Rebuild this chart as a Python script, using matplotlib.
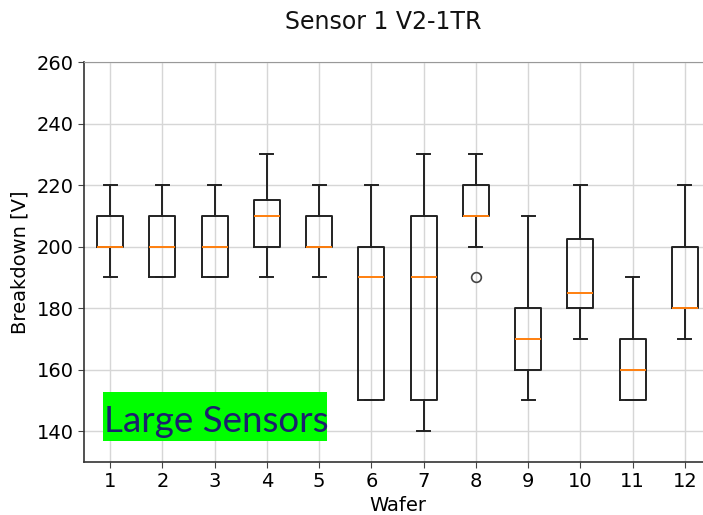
import matplotlib
matplotlib.use("Agg")
import matplotlib.pyplot as plt
from matplotlib.patches import Rectangle

plt.rcParams["font.family"] = ["DejaVu Sans"]

wafers = [1, 2, 3, 4, 5, 6, 7, 8, 9, 10, 11, 12]
whisker_low = [190, 190, 190, 190, 190, 150, 140, 200, 150, 170, 150, 170]
q1 = [200, 190, 190, 200, 200, 150, 150, 210, 160, 180, 150, 180]
median = [200, 200, 200, 210, 200, 190, 190, 210, 170, 185, 160, 180]
q3 = [210, 210, 210, 215, 210, 200, 210, 220, 180, 202.5, 170, 200]
whisker_high = [220, 220, 220, 230, 220, 220, 230, 230, 210, 220, 190, 220]
outliers = [[], [], [], [], [], [], [], [190], [], [], [], []]

stats = []
for i in range(len(wafers)):
    stats.append(dict(label=str(wafers[i]), whislo=whisker_low[i], q1=q1[i],
                      med=median[i], q3=q3[i], whishi=whisker_high[i],
                      fliers=outliers[i]))

fig = plt.figure(figsize=(7.03, 5.15), dpi=100)
ax = fig.add_axes([84 / 703, 1 - 462 / 515, 627 / 703, 400 / 515])

lw = 1.4
ax.bxp(stats, positions=wafers, widths=0.5,
       boxprops=dict(color="#222222", linewidth=lw),
       whiskerprops=dict(color="#222222", linewidth=lw),
       capprops=dict(color="#222222", linewidth=lw),
       medianprops=dict(color="#ff7f0e", linewidth=lw),
       flierprops=dict(marker="o", markerfacecolor="none",
                       markeredgecolor="#444444", markersize=7,
                       markeredgewidth=1.2))

ax.set_xlim(0.5, 12.5)
ax.set_ylim(130, 260)
ax.set_yticks([140, 160, 180, 200, 220, 240, 260])
ax.grid(True, color="#d6d6d6", linewidth=1.0)
ax.set_axisbelow(True)
ax.tick_params(labelsize=14, length=4, color="#444444")
ax.set_xlabel("Wafer", fontsize=14, labelpad=3)
ax.set_ylabel("Breakdown [V]", fontsize=14, labelpad=5)
for side in ("left", "bottom"):
    ax.spines[side].set_color("#333333")
    ax.spines[side].set_linewidth(1.2)
ax.spines["top"].set_color("#999999")

fig.text(383 / 703, 1 - 29 / 515, "Sensor 1 V2-1TR", fontsize=17,
         ha="center", va="baseline", color="#111111")

# highlighted annotation box
fig.patches.append(Rectangle((103 / 703, 1 - 441 / 515), 224 / 703, 49 / 515,
                             transform=fig.transFigure, facecolor="#00ff00",
                             edgecolor="none", zorder=5))
fig.text(104 / 703, 1 - 432 / 515, "Large Sensors", fontsize=26.5,
         family=["Lato", "DejaVu Sans"], color="#1c1f6e",
         va="baseline", ha="left", zorder=6)

fig.savefig("out.png", dpi=100)
